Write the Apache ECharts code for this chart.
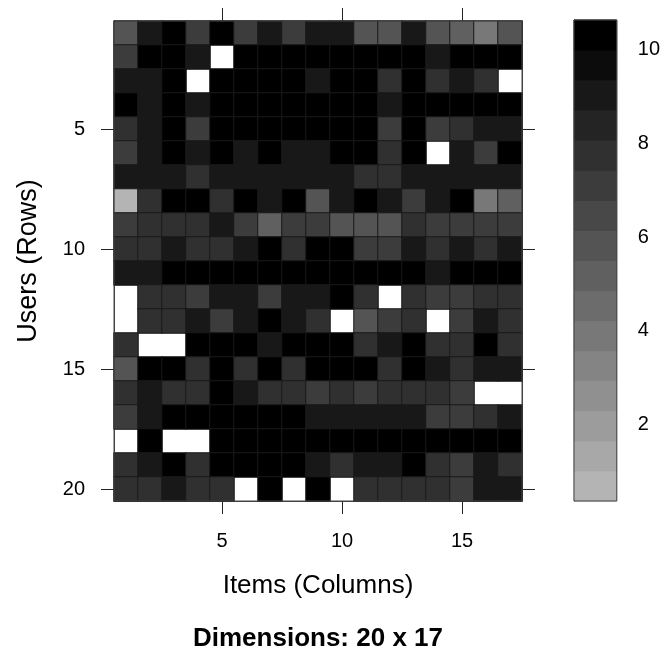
<!DOCTYPE html>
<html>
<head>
<meta charset="utf-8">
<script src="https://cdn.jsdelivr.net/npm/echarts@6/dist/echarts.min.js"></script>
<style>
html,body{margin:0;padding:0;background:#fff;}
#chart{width:663px;height:654px;}
</style>
</head>
<body>
<div id="chart"></div>
<script>
// ---- data ----
const items = ['1','2','3','4','5','6','7','8','9','10','11','12','13','14','15','16','17'];
const users = ['1','2','3','4','5','6','7','8','9','10','11','12','13','14','15','16','17','18','19','20'];
const ratings = [
  [6,9,10,7,10,7,9,7,9,9,6,6,9,6,5,4,6],
  [7,10,10,9,null,10,10,10,10,10,10,10,10,9,10,10,10],
  [9,9,10,null,10,10,10,10,9,10,10,8,10,8,9,8,null],
  [10,9,10,9,10,10,10,10,10,10,10,9,10,10,10,10,10],
  [8,9,10,7,10,10,10,10,10,10,10,7,10,7,8,9,9],
  [7,9,10,9,10,9,10,9,9,10,10,8,10,null,9,7,10],
  [9,9,9,8,9,9,9,9,9,9,8,8,9,9,9,9,9],
  [1,8,10,10,8,10,9,10,6,9,10,9,7,9,10,4,5],
  [7,8,8,8,9,7,5,7,7,6,6,6,8,7,7,7,7],
  [8,8,9,8,8,9,10,8,10,10,7,7,9,8,9,8,9],
  [9,9,10,10,10,10,10,10,10,10,10,10,10,9,10,10,10],
  [null,8,8,7,9,9,7,9,9,10,8,null,8,7,7,8,8],
  [null,8,8,9,7,9,10,9,8,null,6,7,8,null,7,9,8],
  [8,null,null,10,10,10,9,10,10,10,8,9,10,8,8,10,8],
  [6,10,10,8,10,8,10,8,10,10,10,8,10,9,8,9,9],
  [8,9,8,8,10,9,8,8,7,8,7,8,8,8,7,null,null],
  [7,9,10,10,10,10,10,10,9,9,9,9,9,7,7,8,9],
  [null,10,null,null,10,10,10,10,10,10,10,10,10,10,10,10,10],
  [8,9,10,8,10,10,10,10,9,8,9,9,10,8,7,9,8],
  [8,8,9,8,8,null,10,null,10,null,8,8,8,8,7,9,9]
];
const keyRange = [0.37, 10.63];
const keyLevels = 16;
const keyTicks = [2,4,6,8,10];
const axisTickItems = ['5','10','15'];
const axisTickUsers = ['5','10','15','20'];
const xTitle = 'Items (Columns)';
const yTitle = 'Users (Rows)';
const mainTitle = 'Dimensions: 20 x 17';

// ---- derived ----
const breaks = [];
for (let k = 0; k <= keyLevels; k++) breaks.push(keyRange[0] + (keyRange[1]-keyRange[0]) * k / keyLevels);
function levelGrey(k){ const g = Math.round(180 * (keyLevels-1-k) / (keyLevels-1)); return 'rgb('+g+','+g+','+g+')'; }
const pieces = [];
for (let k = 0; k < keyLevels; k++) pieces.push({gte: breaks[k], lt: breaks[k+1], color: levelGrey(k)});
const heatData = [];
ratings.forEach((row, r) => row.forEach((v, c) => { if (v !== null) heatData.push([c, r, v]); }));
const bandData = [];
for (let k = 0; k < keyLevels; k++) bandData.push([breaks[k], breaks[k+1], k]);

const FONT = '"Liberation Sans", Arial, sans-serif';
const chart = echarts.init(document.getElementById('chart'), null, {renderer: 'canvas'});
const tickFnX = (i, v) => axisTickItems.indexOf(String(v)) >= 0;
const tickFnY = (i, v) => axisTickUsers.indexOf(String(v)) >= 0;
const axLine = {show: true, lineStyle: {color: '#444', width: 1}};
const tickStyle = {color: '#222', width: 1};
const labelStyle = {color: '#000', fontSize: 20, fontFamily: FONT};

chart.setOption({
  animation: false,
  backgroundColor: '#fff',
  grid: [
    {left: 114, top: 21, width: 408, height: 480, show: true, borderColor: '#444', borderWidth: 1, backgroundColor: 'transparent', z: 5},
    {left: 574, top: 20, width: 43, height: 481, show: true, borderColor: '#444', borderWidth: 1, backgroundColor: 'transparent', z: 5}
  ],
  xAxis: [
    {type: 'category', gridIndex: 0, position: 'bottom', data: items,
     axisLine: axLine, splitLine: {show: false},
     axisTick: {show: true, alignWithLabel: true, interval: tickFnX, length: 13, lineStyle: tickStyle},
     axisLabel: Object.assign({interval: tickFnX, margin: 30}, labelStyle),
     name: xTitle, nameLocation: 'middle', nameGap: 72,
     nameTextStyle: {color: '#000', fontSize: 26, fontFamily: FONT}},
    {type: 'category', gridIndex: 0, position: 'top', data: items,
     axisLine: axLine, splitLine: {show: false},
     axisTick: {show: true, alignWithLabel: true, interval: tickFnX, length: 13, lineStyle: tickStyle},
     axisLabel: {show: false}},
    {type: 'value', gridIndex: 1, min: 0, max: 1, show: false}
  ],
  yAxis: [
    {type: 'category', gridIndex: 0, position: 'left', inverse: true, data: users,
     axisLine: axLine, splitLine: {show: false},
     axisTick: {show: true, alignWithLabel: true, interval: tickFnY, length: 13, lineStyle: tickStyle},
     axisLabel: Object.assign({interval: tickFnY, margin: 29}, labelStyle),
     name: yTitle, nameLocation: 'middle', nameGap: 72,
     nameTextStyle: {color: '#000', fontSize: 27, fontFamily: FONT}},
    {type: 'category', gridIndex: 0, position: 'right', inverse: true, data: users,
     axisLine: axLine, splitLine: {show: false},
     axisTick: {show: true, alignWithLabel: true, interval: tickFnY, length: 13, lineStyle: tickStyle},
     axisLabel: {show: false}},
    {type: 'value', gridIndex: 1, position: 'right', min: keyRange[0], max: keyRange[1],
     axisLine: axLine, splitLine: {show: false},
     axisTick: {show: true, customValues: keyTicks, length: 11, lineStyle: tickStyle},
     axisLabel: Object.assign({customValues: keyTicks, margin: 21}, labelStyle)}
  ],
  visualMap: {type: 'piecewise', show: false, seriesIndex: 0, dimension: 2, pieces: pieces},
  series: [
    {type: 'heatmap', xAxisIndex: 0, yAxisIndex: 0, data: heatData,
     itemStyle: {borderColor: '#1a1a1a', borderWidth: 1},
     emphasis: {disabled: true}, silent: true},
    {type: 'custom', xAxisIndex: 2, yAxisIndex: 2, data: bandData, silent: true,
     renderItem: function (params, api) {
       const p1 = api.coord([0, api.value(1)]);
       const p2 = api.coord([1, api.value(0)]);
       const col = levelGrey(api.value(2));
       return {type: 'rect', shape: {x: p1[0], y: p1[1], width: p2[0]-p1[0], height: p2[1]-p1[1]},
               style: {fill: col, stroke: col, lineWidth: 1}};
     }}
  ],
  graphic: [
    {type: 'text', x: 318, y: 626, style: {text: mainTitle, fill: '#000', font: 'bold 26px ' + FONT, textAlign: 'center', textVerticalAlign: 'top'}}
  ]
});
</script>
</body>
</html>
